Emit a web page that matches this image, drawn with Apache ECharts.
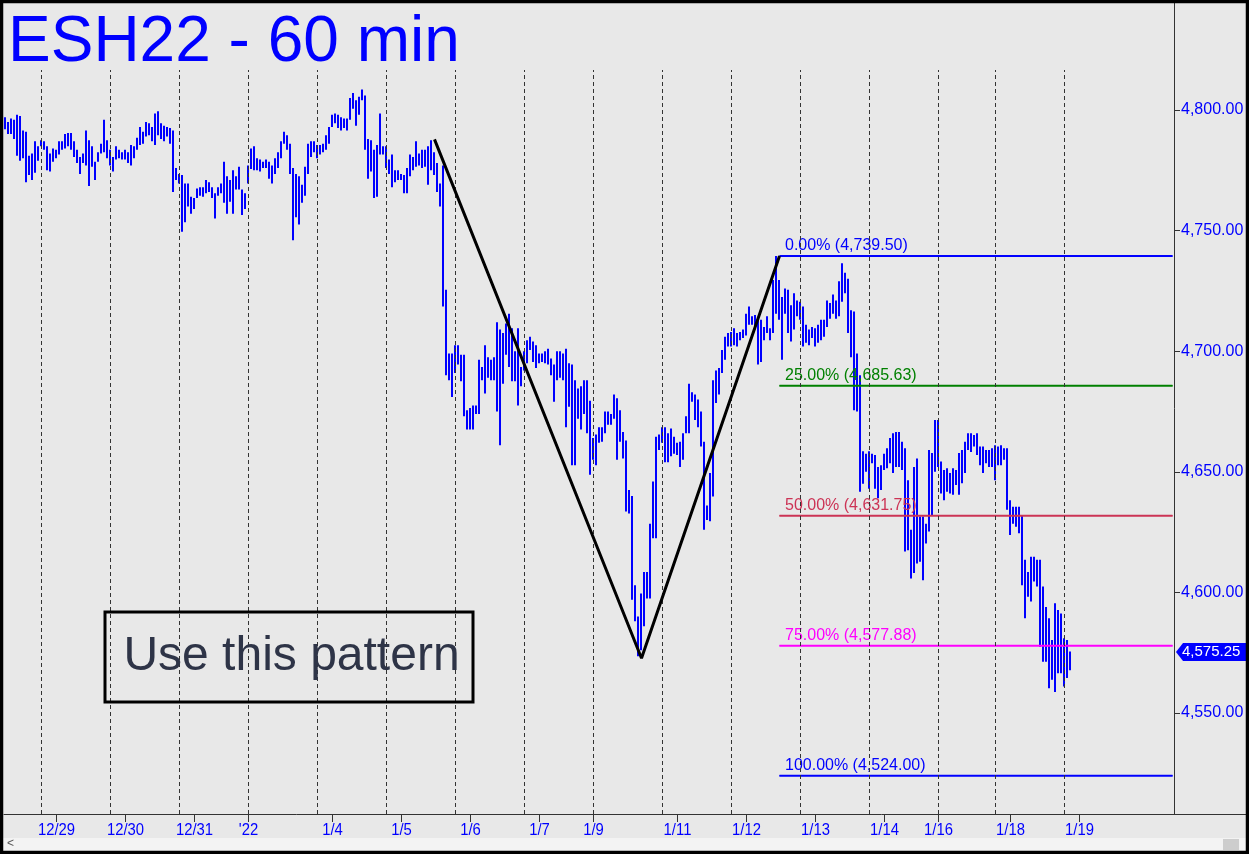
<!DOCTYPE html>
<html>
<head>
<meta charset="utf-8">
<script src="https://cdn.jsdelivr.net/npm/echarts/dist/echarts.min.js"></script>
<style>
html, body { margin: 0; padding: 0; background: #e8e8e8; }
#chart { width: 1249px; height: 854px; }
</style>
</head>
<body>
<div id="chart"></div>
<script>
// hourly bars (high / low)
const highs = [
  4797,4795,4796.5,4796,4798,4797.5,4791.5,4791,4781,4782,4787,4785,
  4787.5,4787,4785,4782,4784,4783.5,4787,4787,4790,4790.5,4790.5,4787,4783.5,4780.5,4782,4791.5,4787.5,4785,4778.5,4782.5,4786,4796,4787.5,
  4783.5,4780.5,4785,4783.5,4782.5,4783.5,4782.5,4785.5,4785,4788.5,4793,4791,4795,4794.5,4793,4798.5,4799.5,4794.5,4793.5,4793,4792.5,4791.5,4776,
  4773.5,4773,4769.5,4769.5,4764,4763.5,4767.5,4768,4768,4771,4770,4768,4765.5,4768,4769.5,4778.5,4772.5,4771,4775,4772.5,4776.5,4767,4765.5,
  4777,4784,4785,4780,4779.5,4778.5,4779.5,4778.5,4777,4780,4782.5,4787,4791,4789.5,4786,4776,4773.5,4772.5,4769,4776.5,4786,4787,4787,
  4785.5,4785.5,4786,4789.5,4793,4798,4798.5,4798,4797,4796.5,4796.5,4805,4807,4804,4805.5,4808.5,4806,4788,4787.5,4783.5,4785.5,4798.5,4785,
  4785,4779.5,4781.5,4775,4775,4773.5,4773,4776,4781.5,4780.5,4787,4782,4783.5,4783.5,4785,4787.5,4782.5,4778,4769.5,4777,4725.5,4699,4699,
  4702.5,4702.5,4698.5,4698.5,4675.5,4676.5,4677.5,4677.5,4696.5,4693.5,4702.5,4697.5,4696.5,4697.5,4712,4709,4707.5,4711.5,4715.5,4709.5,4700,4709.5,4693.5,
  4700,4704.5,4706,4704,4702.5,4699,4699,4700,4701,4697,4694.5,4700,4700,4699,4701,4695,4694.5,4688,4684.5,4685.5,4688,4688,4679.5,
  4664,4665.5,4668.5,4668.5,4675,4675,4674,4682,4680.5,4675.5,4666.5,4663,4642.5,4640,4603,4590,4599.5,4608.5,4608.5,4628.5,4646,4664.5,4665.5,
  4668.5,4668.5,4666,4668,4664.5,4662,4662.5,4666,4673,4686.5,4683,4682,4680,4675,4662.5,4636,4649.5,4688,4692,4693,4700.5,4706,4707.5,
  4708,4709.5,4707.5,4708,4709,4715.5,4718.5,4714.5,4715,4713.5,4713,4710,4714.5,4709.5,4729.5,4739.5,4729.5,4722.5,4726,4725.5,4719,4724,4721,
  4720.5,4718.5,4711,4709,4710,4709.5,4711,4713,4713,4721,4720,4723.5,4721,4729,4736.5,4732.5,4730,4717,4716.5,4699,4690,4658.5,4657.5,
  4658.5,4657.5,4657,4652,4652.75,4657.5,4659.75,4664,4666,4666.5,4666.5,4662.5,4659.75,4646.5,4626,4652,4655.5,4631.5,4631.5,4628.5,4659,4657.75,4671.5,
  4671.5,4654.25,4650.75,4651.5,4649.5,4651.5,4650.75,4657.75,4659,4662.5,4666,4666,4665.25,4666,4660.5,4660.5,4659,4659,4659.75,
  4661,4660.5,4661,4659.75,4659.75,4638.25,4635.5,4635.5,4635.5,4632,4613.5,4608.5,4614.75,4614.75,4613.5,4613.5,4602.5,4594,4589.25,4580.25,4595.5,4592.75,4591.25,
  4581,4580.25,4575.5
];
const lows = [
  4792,4790,4790,4788,4781,4779,4780,4770,4773,4771,4774,4779,
  4785,4783.5,4775,4774.5,4778.5,4780,4781.5,4783.5,4784,4785,4783.5,4780.5,4778,4773.5,4778,4777,4768.5,4776.5,4771,4778.5,4782,4782.5,4780,
  4777,4774.5,4779.5,4780,4779.5,4779.5,4778,4777,4780,4783.5,4785.5,4786,4789,4789.5,4787,4785.5,4789.5,4788,4787,4789,4786,4766,4771,
  4769.5,4749.5,4753.5,4760,4757,4759,4763.5,4764.5,4764,4765.5,4766,4763.5,4755,4764.5,4765.5,4761.5,4757,4762,4757,4767,4767,4756.5,4759,
  4769.5,4775.5,4775,4775,4774.5,4776,4776,4771.5,4769.5,4773.5,4776,4780,4786,4783.5,4773.5,4746,4755.5,4752.5,4761.5,4764.5,4773.5,4780.5,4782.5,
  4780,4781.5,4782.5,4783.5,4786,4793,4794.5,4792.5,4791.5,4792.5,4791.5,4796,4800.5,4793.5,4798,4804,4783.5,4771.5,4774.5,4763.5,4764,4781.5,4781.5,
  4776,4773.5,4768,4770,4771,4771,4765.5,4765.5,4772.5,4775,4776.5,4777,4776,4776.5,4769,4775,4773,4766,4760,4718.5,4690,4688,4681,
  4691,4694.5,4687.5,4673,4667.5,4667.5,4667.5,4674,4674,4688,4682.5,4689,4688,4688,4675,4661,4686.5,4698.5,4693.5,4687.5,4687.5,4677.5,4685.5,
  4692,4695,4700.5,4695.5,4693,4695,4695.5,4695,4694.5,4690,4679,4688,4689,4688,4668.5,4677,4652.75,4652.75,4672,4667.5,4674,4666,4648.75,
  4655,4652.75,4662,4662.5,4666,4669.5,4669.5,4672,4655,4662.5,4655.5,4633.5,4632.75,4597,4588,4573.5,4576,4586,4597.5,4597.5,4622.5,4622.5,4659,
  4662,4654,4654,4656.5,4657.5,4657,4652,4655,4666,4666,4679,4671.5,4668.5,4660.5,4626,4630,4629.5,4639.75,4678.5,4682,4691,4696.5,4702,
  4702,4702.5,4702,4704.5,4705.5,4706.5,4711,4711,4709,4694.5,4695.5,4704.5,4707.5,4704.5,4707.5,4715.5,4713,4696.5,4715.5,4707.5,4704,4709,4714.5,
  4713,4702,4703.5,4702.5,4705.5,4702,4703.5,4704.5,4706,4710,4713.5,4715.5,4713.5,4714.5,4720.5,4724,4707.5,4697.5,4675.5,4675,4641.75,4645,4650,
  4643,4653.5,4643,4639,4642.5,4650.75,4651.5,4653.5,4649.5,4652,4652,4650.75,4617,4617.5,4605.75,4608,4612,4612.75,4605,4620.25,4625.25,4632,4650,
  4652,4641,4638.25,4641.75,4641,4640.5,4644.5,4640.5,4645.25,4649.5,4659,4658.25,4660.5,4657,4652.75,4649.5,4653.5,4652,4652,
  4646.5,4652.75,4652.75,4655,4634.25,4623.75,4628.5,4627.25,4624.5,4603,4589.25,4598.25,4596.25,4604.5,4602.5,4577.5,4571.25,4571.25,4560.25,4563.75,4558.75,4566.5,4566.5,
  4561,4564.5,4567.75
];
const lastPrice = 4575.25;

const slotCount = 390;   // hourly slots across the plot, incl. empty right margin
const sessionStarts = [12, 35, 58, 81, 104, 127, 150, 173, 196, 219, 242, 265, 288, 311, 330, 353];
const dateTicks = [17, 40, 63, 81, 109, 132, 155, 178, 196, 224, 247, 270, 293, 311, 335, 358];
const dateLabels = ['12/29', '12/30', '12/31', "'22", '1/4', '1/5', '1/6', '1/7', '1/9', '1/11', '1/12', '1/13', '1/14', '1/16', '1/18', '1/19'];

const fibNames = ['0.00%', '25.00%', '50.00%', '75.00%', '100.00%'];
const fibValues = [4739.50, 4685.63, 4631.75, 4577.88, 4524.00];
const fibColors = ['#0000ff', '#008000', '#cc3355', '#ff00ff', '#0000ff'];
const fibStart = 258;

const patternX = [143, 212, 258];
const patternY = [4787.8, 4572.7, 4739.5];

const categories = Array.from({ length: slotCount }, (_, i) => String(i));
const tickSet = {};
dateTicks.forEach(t => { tickSet[t] = true; });

const bars = highs.map((h, i) => [i, lows[i], h]);

const fmt = v => v.toLocaleString('en-US', { minimumFractionDigits: 2, maximumFractionDigits: 2 });
const sans = '"Liberation Sans", Arial, sans-serif';

function renderBar(params, api) {
  const x = api.value(0);
  const top = api.coord([x, api.value(2)]);
  const bot = api.coord([x, api.value(1)]);
  return {
    type: 'rect',
    shape: { x: Math.floor(top[0]) - 1, y: top[1], width: 2, height: Math.max(bot[1] - top[1], 1) },
    style: { fill: '#0000ff' }
  };
}

const fibSeries = fibValues.map((v, k) => ({
  type: 'line',
  z: 4,
  silent: true,
  symbol: 'circle',
  symbolSize: 1,
  showSymbol: true,
  itemStyle: { color: fibColors[k] },
  lineStyle: { color: fibColors[k], width: 2 },
  data: [
    {
      value: [fibStart, v],
      label: {
        show: true,
        position: [6, -18],
        formatter: fibNames[k] + ' (' + fmt(v) + ')',
        color: fibColors[k],
        fontSize: 16,
        fontFamily: sans
      }
    },
    [slotCount - 1, v]
  ]
}));

const chart = echarts.init(document.getElementById('chart'));
chart.setOption({
  backgroundColor: '#e8e8e8',
  animation: false,
  grid: [
    { left: 4, right: 75, top: 3, bottom: 40 },
    { left: 4, right: 75, top: 70, bottom: 40 }
  ],
  xAxis: [
    {
      type: 'category',
      gridIndex: 0,
      data: categories,
      boundaryGap: true,
      axisLine: { show: true, lineStyle: { color: '#333', width: 1 } },
      axisTick: {
        show: true,
        alignWithLabel: true,
        length: 8,
        interval: idx => tickSet[idx] === true,
        lineStyle: { color: '#333' }
      },
      axisLabel: { show: false },
      splitLine: { show: false }
    },
    {
      type: 'category',
      gridIndex: 1,
      data: categories,
      boundaryGap: true,
      show: false
    }
  ],
  yAxis: [
    {
      type: 'value',
      gridIndex: 0,
      position: 'right',
      min: 4508.13,
      max: 4844.36,
      splitNumber: 7,
      axisLine: { show: true, lineStyle: { color: '#333', width: 1 } },
      axisTick: { show: true, length: 6, lineStyle: { color: '#333' } },
      axisLabel: {
        color: '#0000ff',
        fontSize: 16,
        fontFamily: sans,
        margin: 7,
        showMinLabel: false,
        showMaxLabel: false,
        formatter: v => (v % 50 === 0 ? fmt(v) : '')
      },
      splitLine: { show: false }
    },
    { type: 'value', gridIndex: 1, min: 0, max: 1, show: false }
  ],
  series: [
    {
      type: 'line',
      xAxisIndex: 1,
      yAxisIndex: 1,
      symbol: 'none',
      silent: true,
      lineStyle: { opacity: 0 },
      data: [[0, 0.5]],
      markLine: {
        silent: true,
        symbol: 'none',
        label: { show: false },
        lineStyle: { color: '#333', type: [4, 3], width: 1 },
        data: sessionStarts.map(i => ({ xAxis: i }))
      }
    },
    {
      type: 'custom',
      z: 2,
      silent: true,
      renderItem: renderBar,
      encode: { x: 0, y: [1, 2] },
      data: bars
    },
    ...fibSeries,
    {
      type: 'line',
      z: 5,
      silent: true,
      symbol: 'none',
      lineStyle: { color: '#000', width: 3 },
      data: patternX.map((x, k) => [x, patternY[k]])
    }
  ]
});

// date labels under the ticks, slightly condensed like the original
const dateTexts = dateTicks.map((t, k) => ({
  type: 'text',
  x: chart.convertToPixel({ xAxisIndex: 0 }, t),
  y: 830,
  scaleX: 0.9,
  z: 10,
  style: { text: dateLabels[k], fill: '#0000ff', font: '16.5px ' + sans, align: 'center', verticalAlign: 'middle' }
}));

const tagY = chart.convertToPixel({ yAxisIndex: 0 }, lastPrice);
chart.setOption({
  graphic: [
    ...dateTexts,
    {
      type: 'text', x: 8, y: 11, z: 10,
      style: { text: 'ESH22 - 60 min', fill: '#0000ff', font: '64px ' + sans, verticalAlign: 'top' }
    },
    {
      type: 'rect', z: 10,
      shape: { x: 105, y: 612, width: 368, height: 90 },
      style: { fill: 'none', stroke: '#000', lineWidth: 3 }
    },
    {
      type: 'text', x: 291.5, y: 657, z: 10,
      style: { text: 'Use this pattern', fill: '#2e3447', font: '48px ' + sans, align: 'center', verticalAlign: 'middle' }
    },
    {
      type: 'polygon', z: 10,
      shape: { points: [[1176, tagY], [1183, tagY - 9], [1249, tagY - 9], [1249, tagY + 9], [1183, tagY + 9]] },
      style: { fill: '#0000ff' }
    },
    {
      type: 'text', x: 1182, y: tagY, z: 11,
      style: { text: fmt(lastPrice), fill: '#fff', font: '15px ' + sans, verticalAlign: 'middle' }
    },
    {
      type: 'line', z: 10,
      shape: { x1: 1174, y1: 814.5, x2: 1249, y2: 814.5 },
      style: { stroke: '#333', lineWidth: 1 }
    },
    {
      type: 'rect', z: 10,
      shape: { x: 3, y: 838, width: 1243, height: 13 },
      style: { fill: '#f3f3f3' }
    },
    {
      type: 'text', x: 7, y: 844, z: 11,
      style: { text: '<', fill: '#555', font: '12px ' + sans, verticalAlign: 'middle' }
    },
    {
      type: 'rect', z: 11,
      shape: { x: 1223, y: 839, width: 16, height: 11 },
      style: { fill: '#cdcdcd' }
    },
    {
      type: 'rect', z: 20,
      shape: { x: 1.5, y: 1.5, width: 1246, height: 851 },
      style: { fill: 'none', stroke: '#000', lineWidth: 3.5 }
    }
  ]
});
</script>
</body>
</html>
